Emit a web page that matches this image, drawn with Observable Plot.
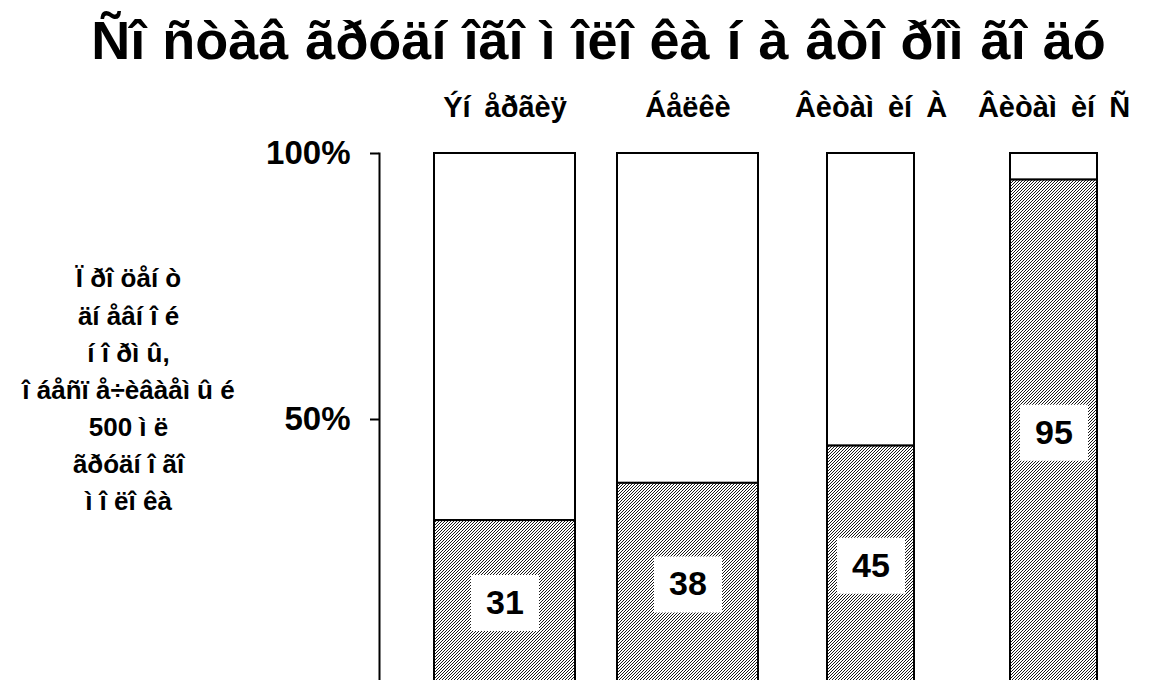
<!DOCTYPE html>
<html>
<head>
<meta charset="utf-8">
<script src="https://cdn.jsdelivr.net/npm/d3@7"></script>
<script src="https://cdn.jsdelivr.net/npm/@observablehq/plot@0.6"></script>
<style>
  html, body { margin: 0; padding: 0; background: #fff; overflow: hidden; }
  #title {
    height: 75px; line-height: 80px; box-sizing: border-box;
    font-family: "Liberation Sans", Arial, sans-serif;
    font-weight: bold; font-size: 54px; color: #000;
    text-align: center; padding-left: 40px; white-space: pre; word-spacing: 2px;
  }
  #chart svg { display: block; overflow: visible; }
  #chart g[aria-label="x-axis tick label"] text { word-spacing: 6px; }
  #chart g[aria-label="ylabel"] text { word-spacing: 8px; }
</style>
</head>
<body>
<div id="title"></div>
<div id="chart"></div>
<script>
const title = "Ñî ñòàâ ãðóäí îãî ì îëî êà í à âòî ðîì ãî äó";
const categories = ["Ýí åðãèÿ", "Áåëêè", "Âèòàì èí À", "Âèòàì èí Ñ"];
const values = [31, 38, 45, 95];
const total = 100;
const yTicks = [50, 100];
const yTickLabels = ["50%", "100%"];
const yLabelLines = ["Ï ðî öåí ò", "äí åâí î é", "í î ðì û,", "î áåñï å÷èâàåì û é", "500 ì ë", "ãðóäí î ãî", "ì î ëî êà"];

document.getElementById("title").textContent = title;

const data = categories.map((c, i) => ({cat: c, value: values[i]}));
const font = "'Liberation Sans', Arial, sans-serif";
const boxSymbol = {draw(ctx) { ctx.rect(-34, -28, 68, 56); }};
const wide = (d, i) => i < 2;
const narrow = (d, i) => i >= 2;

const chart = Plot.plot({
  width: 1157,
  height: 605,
  marginTop: 78,
  marginBottom: 0,
  marginLeft: 379,
  marginRight: 0,
  style: {fontFamily: font, background: "white", color: "black"},
  x: {domain: categories, range: [412.7, 1146.3], padding: 0, label: null},
  y: {domain: [0, total], range: [610, 78], label: null},
  marks: [
    Plot.rectY(data, {filter: wide, x: "cat", y1: "value", y2: () => total, fill: "white", stroke: "black", strokeWidth: 2, insetLeft: 21, insetRight: 21}),
    Plot.rectY(data, {filter: narrow, x: "cat", y1: "value", y2: () => total, fill: "white", stroke: "black", strokeWidth: 2, insetLeft: 48, insetRight: 48}),
    Plot.rectY(data, {filter: wide, x: "cat", y1: () => 0, y2: "value", fill: "url(#hatch)", stroke: "black", strokeWidth: 2, insetLeft: 21, insetRight: 21}),
    Plot.rectY(data, {filter: narrow, x: "cat", y1: () => 0, y2: "value", fill: "url(#hatch)", stroke: "black", strokeWidth: 2, insetLeft: 48, insetRight: 48}),
    Plot.dot(data, {x: "cat", y: d => d.value / 2, symbol: boxSymbol, fill: "white", stroke: "none"}),
    Plot.text(data, {x: "cat", y: d => d.value / 2, text: d => String(d.value), fontSize: 34, fontWeight: "bold", fill: "black"}),
    Plot.axisY({ticks: yTicks, tickFormat: d => yTickLabels[yTicks.indexOf(d)], tickSize: 9, tickPadding: 20, fontSize: 33, fontWeight: "bold", strokeWidth: 2, label: null}),
    Plot.frame({anchor: "left", stroke: "black", strokeWidth: 2}),
    Plot.axisX({anchor: "top", tickSize: 0, tickPadding: 37, fontSize: 29, fontWeight: "bold", label: null}),
    Plot.text([yLabelLines.join("\n")], {ariaLabel: "ylabel", frameAnchor: "left", dx: -251, dy: -30, textAnchor: "middle", lineHeight: 1.43, fontSize: 26, fontWeight: "bold", fill: "black"})
  ]
});

const ns = "http://www.w3.org/2000/svg";
const defs = document.createElementNS(ns, "defs");
const pat = document.createElementNS(ns, "pattern");
pat.setAttribute("id", "hatch");
pat.setAttribute("patternUnits", "userSpaceOnUse");
pat.setAttribute("width", "3");
pat.setAttribute("height", "3");
const bg = document.createElementNS(ns, "rect");
bg.setAttribute("width", "3"); bg.setAttribute("height", "3"); bg.setAttribute("fill", "white");
const p = document.createElementNS(ns, "path");
p.setAttribute("d", "M-0.75,0.75 l1.5,-1.5 M0,3 l3,-3 M2.25,3.75 l1.5,-1.5");
p.setAttribute("stroke", "black");
p.setAttribute("stroke-width", "0.9");
pat.appendChild(bg); pat.appendChild(p); defs.appendChild(pat);
chart.insertBefore(defs, chart.firstChild);
document.getElementById("chart").appendChild(chart);
</script>
</body>
</html>
